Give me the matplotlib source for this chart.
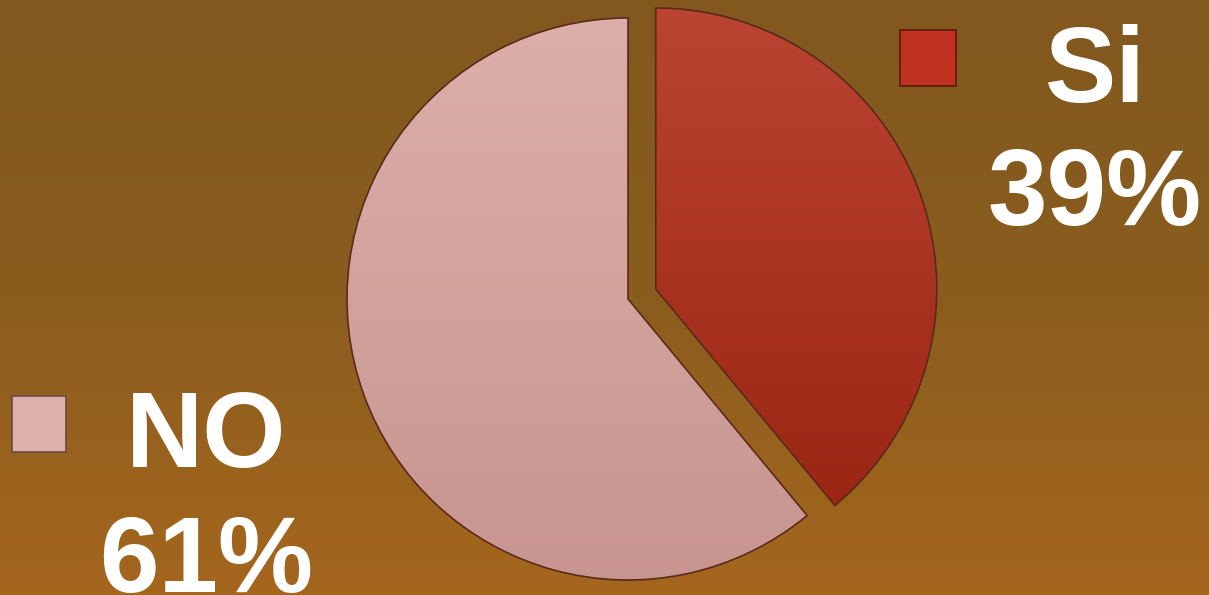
import numpy as np
import matplotlib
matplotlib.use("Agg")
import matplotlib.pyplot as plt
from matplotlib.patches import Rectangle
from matplotlib.colors import LinearSegmentedColormap

labels = ["Si", "NO"]
values = [39, 61]
pct_labels = ["39%", "61%"]
colors_top = ["#BC4433", "#DDB0AB"]
colors_bot = ["#94200C", "#C7948F"]
explode_frac = [0.105, 0.0]

W, H = 1209, 595
fig = plt.figure(figsize=(W / 100, H / 100), dpi=100)
ax = fig.add_axes([0, 0, 1, 1])

# background gradient
bg = LinearSegmentedColormap.from_list("bg", ["#A5661D", "#8A5D1F", "#82581E"])
grad = np.linspace(0, 1, 256).reshape(-1, 1)
ax.imshow(grad, cmap=bg, extent=[0, W, 0, H], origin="lower", aspect="auto", zorder=0)

cx, cy, r = 628, 296, 281
wedges, _ = ax.pie(values, startangle=90, counterclock=False,
                   explode=[e * r for e in explode_frac],
                   center=(cx, cy), radius=r, frame=True,
                   wedgeprops=dict(edgecolor="#5a2a1a", linewidth=1.2))
ax.set_xlim(0, W)
ax.set_ylim(0, H)
ax.set_aspect("equal")
ax.axis("off")

for w, ct, cb in zip(wedges, colors_top, colors_bot):
    cm = LinearSegmentedColormap.from_list("g", [cb, ct])
    w.set_facecolor("none")
    w.set_zorder(3)
    im = ax.imshow(grad, cmap=cm, extent=[cx - r - 40, cx + r + 60, cy - r - 20, cy + r + 20],
                   origin="lower", aspect="auto", zorder=2)
    im.set_clip_path(w)

# labels with legend-like squares
font = dict(family=["Liberation Sans", "DejaVu Sans"], weight="bold", color="white", fontsize=77)
# Si
ax.add_patch(Rectangle((900, H - 86), 56, 56, facecolor="#C0301E", edgecolor="#5a1a10", lw=1.2, zorder=4))
ax.text(1095, H - 102, labels[0], ha="center", va="baseline", zorder=5, **font)
ax.text(1095, H - 225, pct_labels[0], ha="center", va="baseline", zorder=5, **font)
# NO
ax.add_patch(Rectangle((12, H - 452), 54, 56, facecolor="#DDB0AE", edgecolor="#6a4a40", lw=1.2, zorder=4))
ax.text(206, H - 467, labels[1], ha="center", va="baseline", zorder=5, **font)
ax.text(206, H - 592, pct_labels[1], ha="center", va="baseline", zorder=5, **font)

fig.savefig("out.png", dpi=100)
